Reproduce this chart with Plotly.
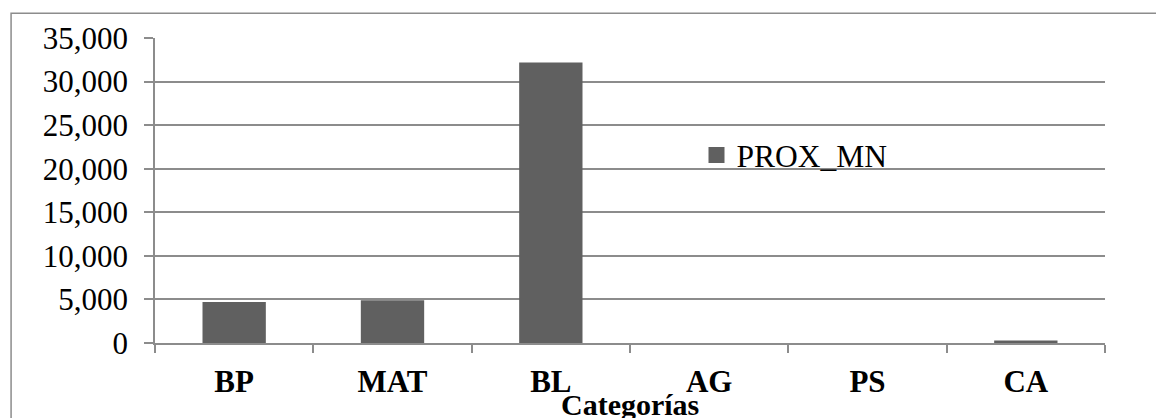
import plotly.graph_objects as go

categories = ["BP", "MAT", "BL", "AG", "PS", "CA"]
prox_mn = [4700, 4900, 32200, 0, 0, 300]
y_ticks = [0, 5000, 10000, 15000, 20000, 25000, 30000, 35000]

FONT = "Liberation Serif, Times New Roman, serif"
GRID = "#8c8c8c"
BAR = "#606060"

fig = go.Figure()
fig.add_trace(go.Bar(
    x=categories,
    y=prox_mn,
    name="PROX_MN",
    legendgroup="prox",
    marker=dict(color=BAR, line=dict(width=0)),
    showlegend=False,
))
# legend entry with a larger square swatch for the bar series
fig.add_trace(go.Scatter(
    x=[None], y=[None],
    mode="markers",
    name="PROX_MN",
    legendgroup="prox",
    marker=dict(symbol="square", size=17, color=BAR),
    showlegend=True,
    hoverinfo="skip",
))

fig.update_layout(
    width=1156,
    height=418,
    margin=dict(l=155, r=51, t=38, b=75),
    paper_bgcolor="white",
    plot_bgcolor="white",
    bargap=0.6,
    font=dict(family=FONT, size=31, color="black"),
    showlegend=True,
    legend=dict(
        x=0.57, y=0.616, xanchor="left", yanchor="middle",
        bgcolor="rgba(0,0,0,0)",
        font=dict(family=FONT, size=31.5, color="black"),
        itemsizing="trace",
        itemwidth=30,
    ),
)

fig.update_yaxes(
    range=[0, 35000],
    tickvals=y_ticks,
    tickformat=",",
    showgrid=True,
    gridcolor=GRID,
    gridwidth=1.5,
    showline=True,
    linecolor=GRID,
    linewidth=1.5,
    ticks="outside",
    ticklen=9,
    tickcolor=GRID,
    tickwidth=1.5,
    ticklabelstandoff=10,
    tickfont=dict(family=FONT, size=31, color="black"),
    zeroline=False,
)

fig.update_xaxes(
    showline=True,
    linecolor=GRID,
    linewidth=1.5,
    ticks="outside",
    tickson="boundaries",
    ticklen=8,
    tickcolor=GRID,
    tickwidth=1.5,
    ticklabelstandoff=10,
    tickfont=dict(family=FONT, size=31, color="black", weight="bold"),
    showgrid=False,
)

# x-axis title placed tight under the category labels, running into the bottom edge
fig.add_annotation(
    text="<b>Categorías</b>",
    xref="paper", yref="paper",
    x=0.5, y=-0.2,
    xanchor="center", yanchor="middle",
    showarrow=False,
    font=dict(family=FONT, size=30, color="black"),
)

# outer chart frame
fig.add_shape(
    type="rect",
    xref="paper", yref="paper",
    x0=-0.1515, x1=1.06, y0=-0.5, y1=1.081,
    line=dict(color="#8c8c8c", width=1.5),
    fillcolor="rgba(0,0,0,0)",
    layer="below",
)

fig.write_html("out.html")
